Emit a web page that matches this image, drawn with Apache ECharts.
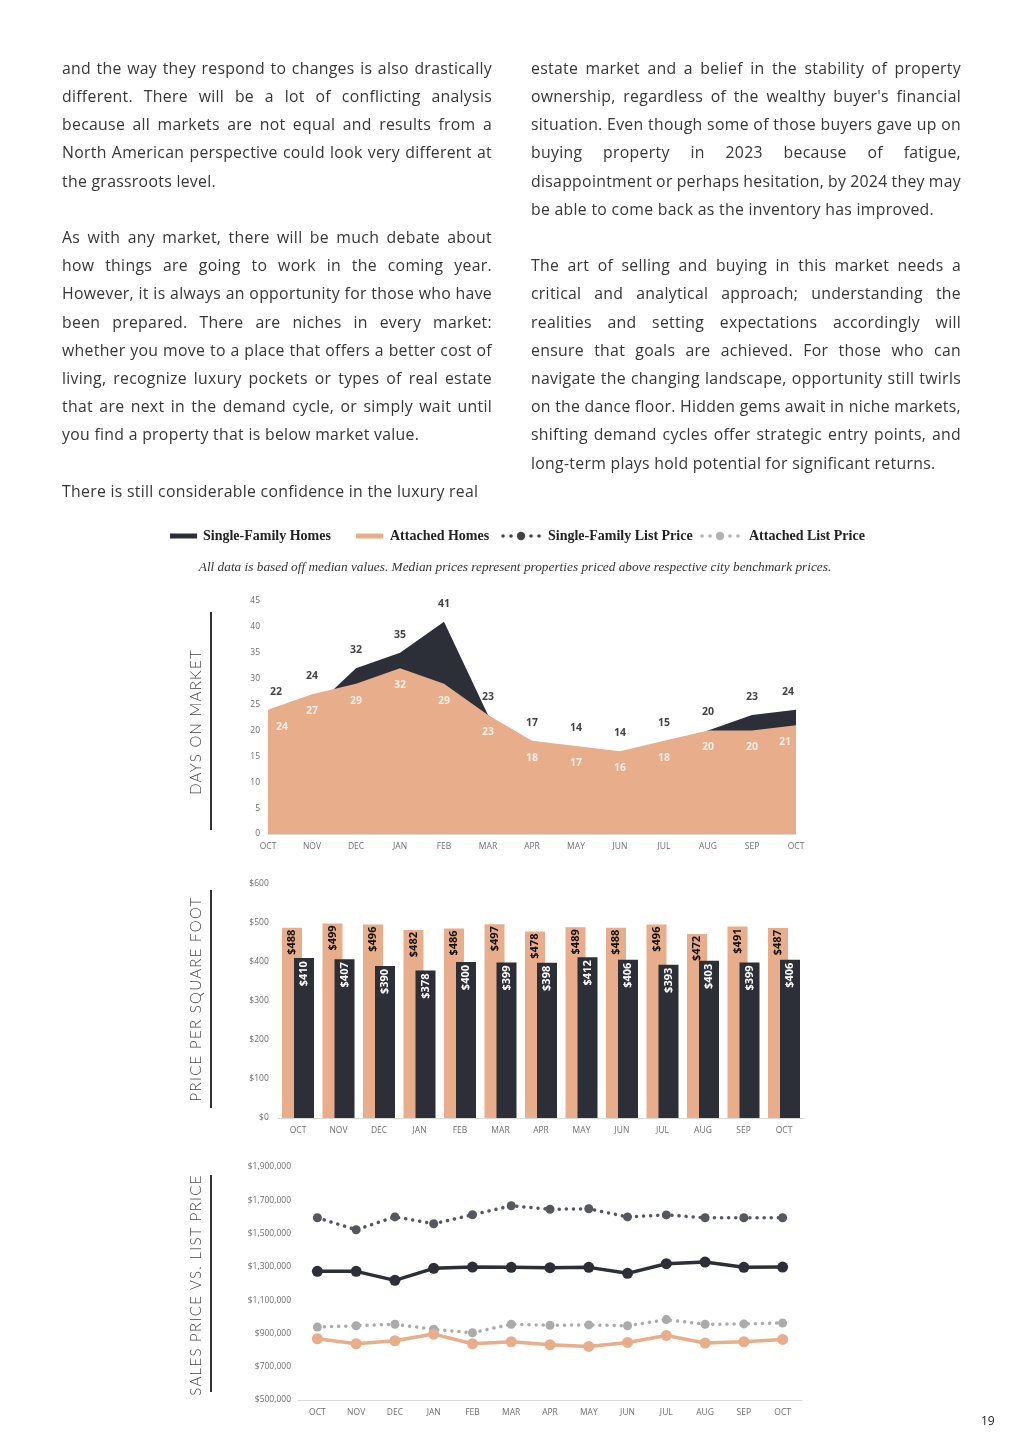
<!DOCTYPE html>
<html>
<head>
<meta charset="utf-8">
<script src="https://cdn.jsdelivr.net/npm/echarts@6/dist/echarts.min.js"></script>
<style>
html,body{margin:0;padding:0;background:#fff;}
#page{position:relative;width:1024px;height:1448px;overflow:hidden;background:#fff;}
#chart{position:absolute;left:0;top:0;width:1024px;height:1448px;}
.col{position:absolute;top:53.9px;width:430px;font-family:'Open Sans',sans-serif;font-size:15.8px;letter-spacing:0.3px;line-height:28.2px;color:#363636;}
.col div{height:28.2px;white-space:nowrap;}
.col div.j{text-align:justify;text-align-last:justify;white-space:normal;word-spacing:-4px;}
.vt{position:absolute;font-family:'Lato',sans-serif;font-weight:300;font-size:15px;letter-spacing:1.3px;color:#444;white-space:nowrap;transform:translate(-50%,-50%) rotate(-90deg);}
.rule{position:absolute;left:210px;width:2px;background:#333;}
#pg{position:absolute;left:981px;top:1412px;font-family:'Open Sans',sans-serif;font-size:12px;color:#222;}
</style>
</head>
<body>
<div id="page">
<div id="chart"></div>
<div class="col" style="left:62px">
<div class="j">and the way they respond to changes is also drastically</div>
<div class="j">different. There will be a lot of conflicting analysis</div>
<div class="j">because all markets are not equal and results from a</div>
<div class="j">North American perspective could look very different at</div>
<div>the grassroots level.</div>
<div></div>
<div class="j">As with any market, there will be much debate about</div>
<div class="j">how things are going to work in the coming year.</div>
<div class="j">However, it is always an opportunity for those who have</div>
<div class="j">been prepared. There are niches in every market:</div>
<div class="j">whether you move to a place that offers a better cost of</div>
<div class="j">living, recognize luxury pockets or types of real estate</div>
<div class="j">that are next in the demand cycle, or simply wait until</div>
<div>you find a property that is below market value.</div>
<div></div>
<div>There is still considerable confidence in the luxury real</div>
</div>
<div class="col" style="left:531px">
<div class="j">estate market and a belief in the stability of property</div>
<div class="j">ownership, regardless of the wealthy buyer's financial</div>
<div class="j">situation. Even though some of those buyers gave up on</div>
<div class="j">buying property in 2023 because of fatigue,</div>
<div class="j">disappointment or perhaps hesitation, by 2024 they may</div>
<div>be able to come back as the inventory has improved.</div>
<div></div>
<div class="j">The art of selling and buying in this market needs a</div>
<div class="j">critical and analytical approach; understanding the</div>
<div class="j">realities and setting expectations accordingly will</div>
<div class="j">ensure that goals are achieved. For those who can</div>
<div class="j">navigate the changing landscape, opportunity still twirls</div>
<div class="j">on the dance floor. Hidden gems await in niche markets,</div>
<div class="j">shifting demand cycles offer strategic entry points, and</div>
<div>long-term plays hold potential for significant returns.</div>
</div>
<div class="vt" style="left:195px;top:722px">DAYS ON MARKET</div>
<div class="vt" style="left:195px;top:999px">PRICE PER SQUARE FOOT</div>
<div class="vt" style="left:195px;top:1285px">SALES PRICE VS. LIST PRICE</div>
<div class="rule" style="top:612px;height:218px"></div>
<div class="rule" style="top:890px;height:218px"></div>
<div class="rule" style="top:1175px;height:217px"></div>
<div id="pg">19</div>
</div>
<script>
// ---- data ----
const months = ['OCT','NOV','DEC','JAN','FEB','MAR','APR','MAY','JUN','JUL','AUG','SEP','OCT'];
const domSingleFamily = [22,24,32,35,41,23,17,14,14,15,20,23,24];
const domAttached = [24,27,29,32,29,23,18,17,16,18,20,20,21];
const ppsfAttached = [488,499,496,482,486,497,478,489,488,496,472,491,487];
const ppsfSingleFamily = [410,407,390,378,400,399,398,412,406,393,403,399,406];
const sfSalePrice = [1273000,1273000,1219000,1291000,1299000,1297000,1295000,1297000,1261000,1319000,1329000,1297000,1299000];
const sfListPrice = [1595000,1523000,1600000,1559000,1613000,1667000,1646000,1649000,1600000,1612000,1595000,1595000,1595000];
const attSalePrice = [868000,838000,856000,896000,838000,850000,832000,822000,846000,888000,842000,850000,864000];
const attListPrice = [938000,946000,955000,925000,904000,955000,949000,951000,946000,983000,955000,957000,963000];
const salesTicks = [500000,700000,900000,1100000,1300000,1500000,1700000,1900000];

const DARK = '#2d2f38', PEACH = '#e8ad8a', SFLIST = '#55575f', ATTLIST = '#ababab';
const axisFont = {fontFamily:'Open Sans', fontSize:8.5, color:'#6f6f6f'};
const last = months.length - 1;

const sfLabelData = domSingleFamily.map((v,i)=>({
  value: Math.max(v, domAttached[i]),
  label: {offset:[i===0?8:(i===last?-8:0),0]}
}));
const attLabelData = domAttached.map((v,i)=>({
  value: v,
  label: {offset:[i===0?14:(i===last?-11:0),0]}
}));

const chart = echarts.init(document.getElementById('chart'), null, {renderer:'canvas'});
const catAxis = (gi, gap)=>({
  type:'category', gridIndex:gi, data:months, boundaryGap:gap,
  axisLine:{show:true, lineStyle:{color:'#d9d9d9', width:1}},
  axisTick:{show:false},
  axisLabel:Object.assign({interval:0, margin:8}, axisFont)
});
const legendText = (t, x)=>({type:'text', x:x, y:536, style:{text:t, font:'bold 14px "Liberation Serif"', fill:'#222', align:'left', verticalAlign:'middle'}});
const dots = (x0, color)=>[
  {type:'circle', shape:{cx:x0, cy:536, r:1.8}, style:{fill:color}},
  {type:'circle', shape:{cx:x0+8, cy:536, r:1.8}, style:{fill:color}},
  {type:'circle', shape:{cx:x0+18, cy:536, r:4.2}, style:{fill:color}},
  {type:'circle', shape:{cx:x0+28, cy:536, r:1.8}, style:{fill:color}},
  {type:'circle', shape:{cx:x0+36, cy:536, r:1.8}, style:{fill:color}}
];
const labelFont = {fontFamily:'Open Sans', fontWeight:'bold'};

const option = {
  animation:false,
  grid:[
    {left:268, width:528, top:601, height:233},
    {left:277.75, width:526.5, top:884, height:234},
    {left:298, width:504, top:1167, height:233}
  ],
  xAxis:[catAxis(0,false), catAxis(1,true), catAxis(2,true)],
  yAxis:[
    {type:'value', gridIndex:0, min:0, max:45, interval:5, splitLine:{show:false}, axisLine:{show:false}, axisTick:{show:false}, axisLabel:Object.assign({margin:8}, axisFont)},
    {type:'value', gridIndex:1, min:0, max:600, interval:100, splitLine:{show:false}, axisLine:{show:false}, axisTick:{show:false}, axisLabel:Object.assign({margin:9, formatter:v=>'$'+v}, axisFont)},
    {type:'value', gridIndex:2, min:500000, max:1900000, splitLine:{show:false}, axisLine:{show:false}, axisTick:{show:false},
      axisLabel:Object.assign({margin:7, customValues:salesTicks, formatter:v=>'$'+v.toLocaleString('en-US')}, axisFont)}
  ],
  series:[
    {type:'line', name:'Single-Family Homes', xAxisIndex:0, yAxisIndex:0, data:domSingleFamily, symbol:'none', color:DARK, lineStyle:{width:0}, areaStyle:{color:DARK, opacity:1}, z:2},
    {type:'line', name:'Attached Homes', xAxisIndex:0, yAxisIndex:0, data:domAttached, symbol:'none', color:PEACH, lineStyle:{width:0}, areaStyle:{color:PEACH, opacity:1}, z:3},
    {type:'scatter', xAxisIndex:0, yAxisIndex:0, data:sfLabelData, symbolSize:1, itemStyle:{color:'rgba(0,0,0,0)'}, silent:true, z:5,
      label:Object.assign({show:true, position:'top', distance:12, color:'#111', fontSize:10.5, formatter:p=>domSingleFamily[p.dataIndex]}, labelFont)},
    {type:'scatter', xAxisIndex:0, yAxisIndex:0, data:attLabelData, symbolSize:1, itemStyle:{color:'rgba(0,0,0,0)'}, silent:true, z:5,
      label:Object.assign({show:true, position:'bottom', distance:11, color:'#fff', fontSize:10.5, formatter:p=>domAttached[p.dataIndex]}, labelFont)},
    {type:'bar', name:'Attached Homes', xAxisIndex:1, yAxisIndex:1, data:ppsfAttached, barWidth:20, barGap:'-40%', color:PEACH,
      label:Object.assign({show:true, position:'insideTop', rotate:90, align:'right', verticalAlign:'middle', distance:2, color:'#111', fontSize:11, formatter:p=>'$'+p.value}, labelFont)},
    {type:'bar', name:'Single-Family Homes', xAxisIndex:1, yAxisIndex:1, data:ppsfSingleFamily, barWidth:20, barGap:'-40%', color:DARK,
      label:Object.assign({show:true, position:'insideTop', rotate:90, align:'right', verticalAlign:'middle', distance:3, color:'#fff', fontSize:11, formatter:p=>'$'+p.value}, labelFont)},
    {type:'line', name:'Single-Family List Price', xAxisIndex:2, yAxisIndex:2, data:sfListPrice, color:SFLIST, symbol:'circle', symbolSize:9,
      lineStyle:{width:3.5, type:[0.1,7], cap:'round'}},
    {type:'line', name:'Attached List Price', xAxisIndex:2, yAxisIndex:2, data:attListPrice, color:ATTLIST, symbol:'circle', symbolSize:9,
      lineStyle:{width:3.5, type:[0.1,7], cap:'round'}},
    {type:'line', name:'Single-Family Homes', xAxisIndex:2, yAxisIndex:2, data:sfSalePrice, color:DARK, symbol:'circle', symbolSize:11, lineStyle:{width:3.5}},
    {type:'line', name:'Attached Homes', xAxisIndex:2, yAxisIndex:2, data:attSalePrice, color:PEACH, symbol:'circle', symbolSize:11, lineStyle:{width:3.5}}
  ],
  graphic:[
    {type:'rect', shape:{x:170, y:533.5, width:27, height:5}, style:{fill:DARK}},
    legendText('Single-Family Homes', 203),
    {type:'rect', shape:{x:356, y:533.5, width:27, height:5}, style:{fill:PEACH}},
    legendText('Attached Homes', 390),
    ...dots(503, '#444'),
    legendText('Single-Family List Price', 548),
    ...dots(702, '#b3b3b3'),
    legendText('Attached List Price', 749),
    {type:'text', x:515, y:568, style:{text:'All data is based off median values. Median prices represent properties priced above respective city benchmark prices.', font:'italic 13.3px "Liberation Serif"', fill:'#333', align:'center', verticalAlign:'middle'}}
  ]
};
chart.setOption(option);
</script>
</body>
</html>
